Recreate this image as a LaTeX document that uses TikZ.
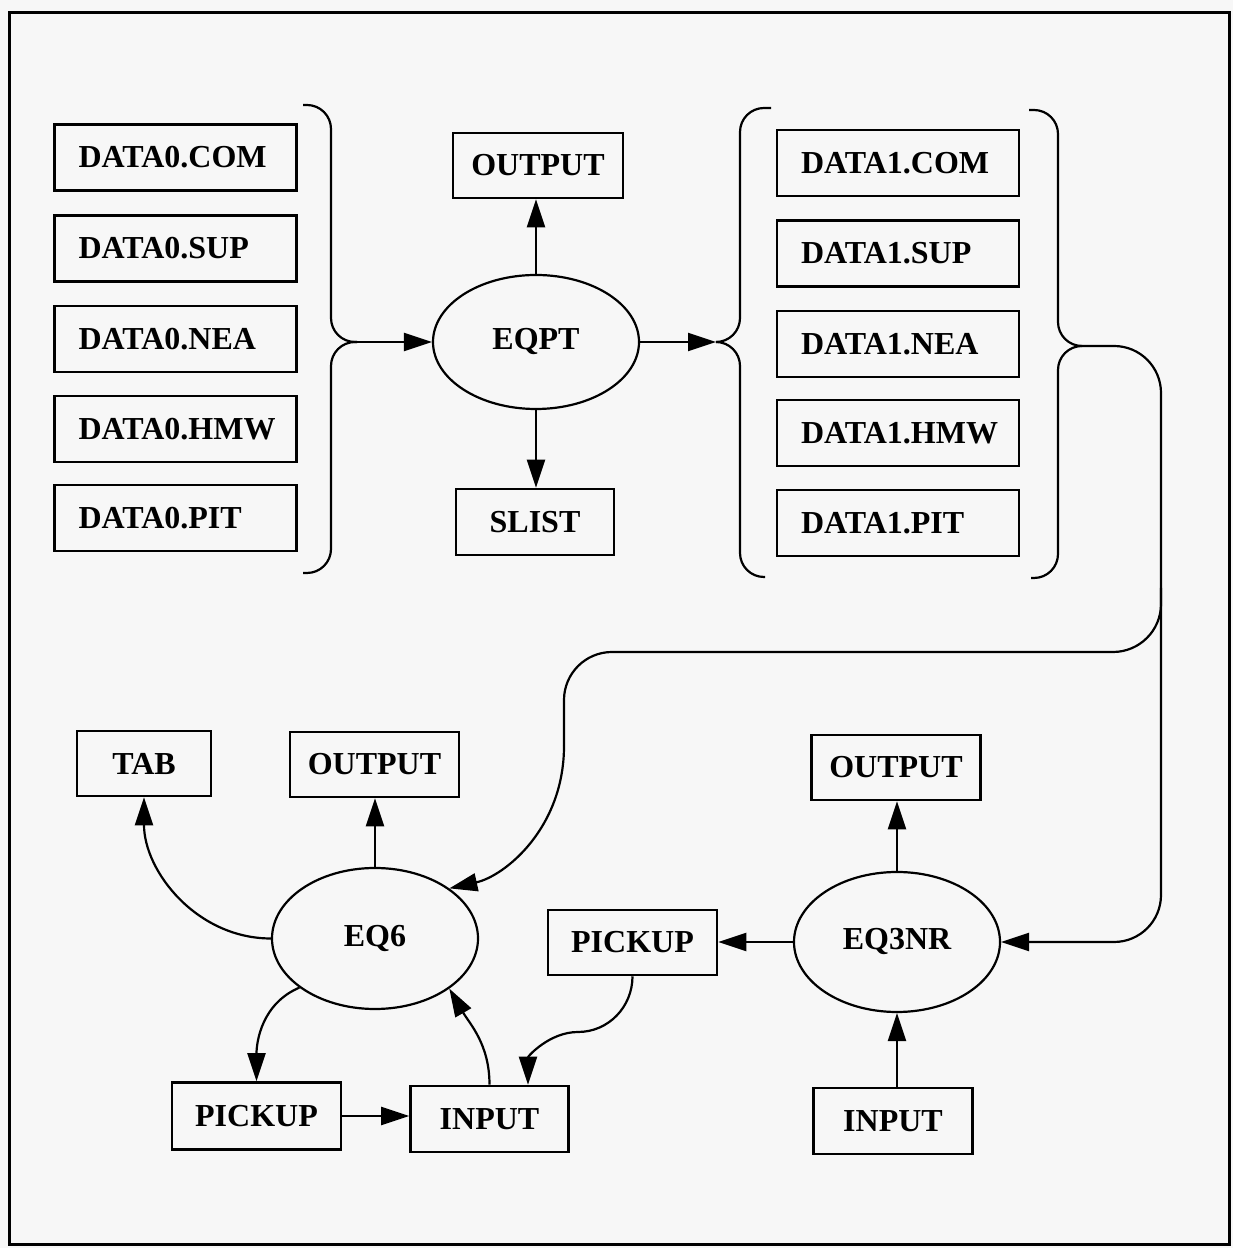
\documentclass[tikz,border=0pt]{standalone}
\usepackage{fontspec}
\setmainfont{Liberation Serif}
\usetikzlibrary{arrows.meta,shapes.geometric,calc}
\definecolor{bg}{RGB}{247,247,247}
\begin{document}
\begin{tikzpicture}[x=1pt,y=1pt,
  every node/.style={font=\fontsize{32}{36}\selectfont\bfseries, line width=2.6pt},
  dbox/.style={draw, rectangle, minimum height=66pt, text width=194pt, inner xsep=24pt, inner ysep=0pt, align=left},
  fbox/.style={draw, rectangle, inner sep=0pt},
  prog/.style={draw, ellipse, inner sep=0pt, minimum width=206pt, minimum height=138pt, line width=2.2pt},
  wire/.style={line width=2.2pt},
  conn/.style={wire, -{Triangle[length=28pt,width=18pt]}},
  brc/.style={wire, rounded corners=24pt},
]
\fill[bg] (0,0) rectangle (1233,1248);
\useasboundingbox (0,0) rectangle (1233,1248);
\draw[line width=3pt] (9,3) rectangle (1229,1235);

% DATA0 files
\node[dbox] (d0com) at (175.5,1090.5) {DATA0.COM};
\node[dbox] (d0sup) at (175.5,999.5) {DATA0.SUP};
\node[dbox] (d0nea) at (175.5,909) {DATA0.NEA};
\node[dbox] (d0hmw) at (175.5,819) {DATA0.HMW};
\node[dbox] (d0pit) at (175.5,730) {DATA0.PIT};
% DATA1 files
\node[dbox] (d1com) at (898,1085) {DATA1.COM};
\node[dbox] (d1sup) at (898,994.5) {DATA1.SUP};
\node[dbox] (d1nea) at (898,904) {DATA1.NEA};
\node[dbox] (d1hmw) at (898,815) {DATA1.HMW};
\node[dbox] (d1pit) at (898,725) {DATA1.PIT};

% EQPT
\node[prog, minimum height=134pt] (eqpt) at (536,906) {EQPT};
\node[fbox, minimum width=170pt, minimum height=65pt] (outT) at (538,1082.5) {OUTPUT};
\node[fbox, minimum width=158pt, minimum height=66pt] (slist) at (535,726) {SLIST};

% EQ6
\node[fbox, minimum width=134pt, minimum height=65pt] (tab) at (144,484.5) {TAB};
\node[fbox, minimum width=169pt, minimum height=65pt] (out6) at (374.5,483.5) {OUTPUT};
\node[prog, minimum height=141pt] (eq6) at (375,309.5) {EQ6};
\node[fbox, minimum width=169pt, minimum height=67pt] (pickL) at (256.5,132) {PICKUP};
\node[fbox, minimum width=158pt, minimum height=66pt] (inL) at (489.5,129) {INPUT};

% EQ3NR
\node[fbox, minimum width=169pt, minimum height=65pt] (pickM) at (632.5,305.5) {PICKUP};
\node[prog, minimum height=140pt] (eq3nr) at (897,306) {EQ3NR};
\node[fbox, minimum width=169pt, minimum height=65pt] (out3) at (896,480.5) {OUTPUT};
\node[fbox, minimum width=159pt, minimum height=66pt] (in3) at (893,127) {INPUT};

% brace tips and route points
\coordinate (b0tip) at (357,906);
\coordinate (b1tip) at (716,906);
\coordinate (b2tip) at (1082,902);
\coordinate (split) at (1161,660);
\coordinate (drop) at (564,502);

% braces
\draw[brc] (303,1143) -- (331,1143) -- (331,906) -- (b0tip);
\draw[brc] (b0tip) -- (331,906) -- (331,675) -- (303,675);
\draw[brc] (771,1140) -- (740,1140) -- (740,906) -- (b1tip);
\draw[brc] (b1tip) -- (740,906) -- (740,671) -- (765,671);
\draw[brc] (1029,1138) -- (1058,1138) -- (1058,902) -- (b2tip);
\draw[brc] (b2tip) -- (1058,902) -- (1058,670) -- (1031,670);

% connectors
\draw[conn] (b0tip) -- (eqpt.west);
\draw[conn] (eqpt.north) -- (eqpt.north |- outT.south);
\draw[conn] (eqpt.south) -- (eqpt.south |- slist.north);
\draw[conn] (eqpt.east) -- (b1tip);
\draw[conn, rounded corners=47pt] (b2tip) -- (1161,902) -- (1161,306) -- (eq3nr.east);
\draw[wire, rounded corners=48pt] (split) -- (1161,596) -- (564,596) -- (drop);
\draw[conn] (drop) .. controls (564,420) and (505,372) .. (eq6.34);

\draw[conn] (eq6.west) to[out=180,in=-90] (tab.south);
\draw[conn] (eq6.north) -- (eq6.north |- out6.south);
\draw[conn] (eq6.213) to[out=203,in=90] (pickL.north);
\draw[conn] (inL.north) to[out=90,in=-60] (eq6.-34);
\draw[conn] (pickL.east) -- (pickL.east -| inL.west);
\coordinate (inLx) at ($(inL.north)+(38.5,0)$);
\draw[conn] (pickM.south) to[out=-90,in=0] (578,216) to[out=180,in=90] (inLx);

\draw[conn] (eq3nr.west) -- (eq3nr.west -| pickM.east);
\draw[conn] (eq3nr.north) -- (eq3nr.north |- out3.south);
\draw[conn] (eq3nr.south |- in3.north) -- (eq3nr.south);
\end{tikzpicture}
\end{document}
